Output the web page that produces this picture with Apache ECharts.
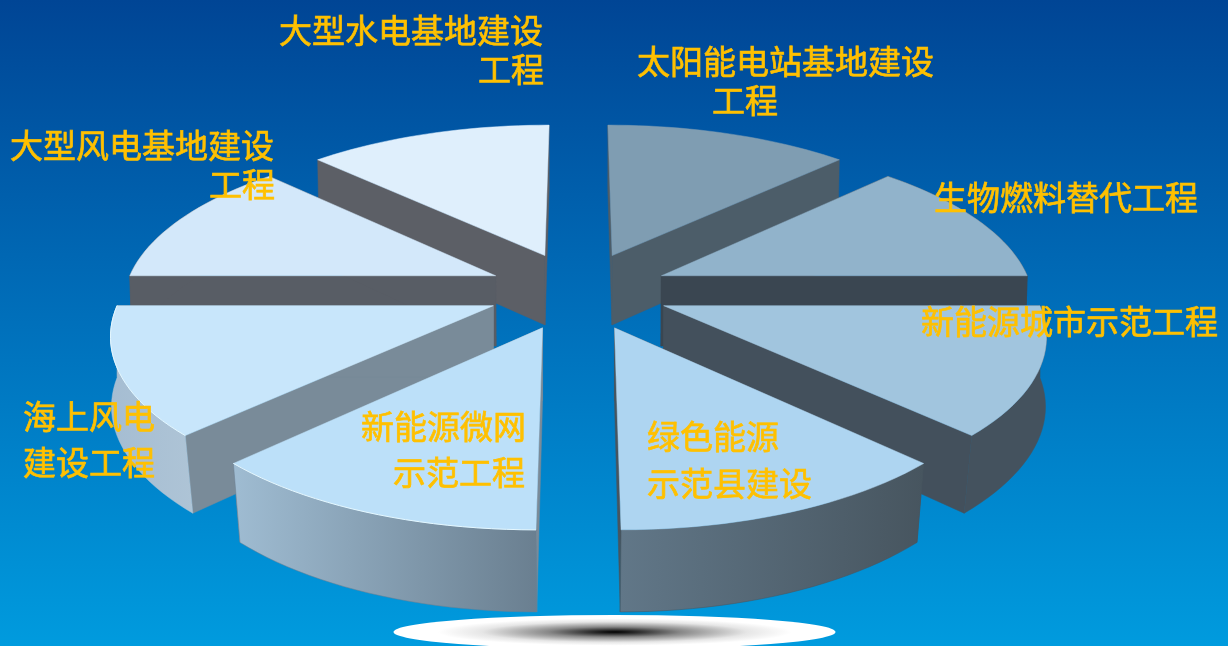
<!DOCTYPE html>
<html>
<head>
<meta charset="utf-8">
<style>
  html, body { margin: 0; padding: 0; width: 100%; height: 100%; overflow: hidden; }
  #chart { width: 1228px; height: 646px; }
</style>
<script src="https://cdn.jsdelivr.net/npm/echarts@6/dist/echarts.min.js"></script>
</head>
<body>
<div id="chart"></div>
<script>
// Eight equal project groups, listed clockwise from twelve o'clock.
const categories = [
  '太阳能电站基地建设\n工程',
  '生物燃料替代工程',
  '新能源城市示范工程',
  '绿色能源\n示范县建设',
  '新能源微网\n示范工程',
  '海上风电\n建设工程',
  '大型风电基地建设\n工程',
  '大型水电基地建设\n工程'
];
const values = [1, 1, 1, 1, 1, 1, 1, 1];

// Face colours per slice, same order as the categories.
const topColors = ['#7f9db2', '#91b3cb', '#a1c5de', '#aed5f1', '#bce0f9', '#c8e6fb', '#d3e8fa', '#dfeffc'];
const wallColors = ['#4c5d69', '#3a4651', '#43505c', '#47555f', '#7a8b99', '#798b99', '#585d65', '#5c5f66'];
// Outer rim shading: colour at the left and right of each rim.
const rimLeft = ['#4c5d69', '#3a4651', '#44525e', '#617788', '#9fbcd2', '#a5bdd2', '#585d65', '#5c5f66'];
const rimRight = ['#4c5d69', '#3a4651', '#44525e', '#47555f', '#6a7f90', '#aec4d6', '#585d65', '#5c5f66'];
const rimHighlight = [null, null, null, null, '#e6f8ff', '#e6f8ff', null, null];

// Label lines: left edge of every line, first-line centre and line spacing.
const labelLayout = [
  { x: [637, 712], y: 61, gap: 39 },
  { x: [934], y: 197, gap: 0 },
  { x: [921], y: 321, gap: 0 },
  { x: [647, 647], y: 436, gap: 47 },
  { x: [361, 393], y: 426, gap: 46 },
  { x: [23, 23], y: 416, gap: 46 },
  { x: [10, 209], y: 145, gap: 39 },
  { x: [279, 478], y: 30, gap: 39 }
];

// Perspective model of the disc: unit radius, exploded outwards.
const view = { cx: 578.5, cy: 290.5, a: 371, b: 159.5, k: 0.149, explode: 0.245, depth: 71 };
const total = values.reduce((sum, v) => sum + v, 0);

function projectTop(X, Y) {
  const s = 1 / (1 - view.k * Y);
  return [view.cx + view.a * X * s, view.cy + view.b * Y * s, s];
}
// The underside sits lower and, towards the viewer, slightly closer to the centre.
function projectBottom(X, Y) {
  const p = projectTop(X, Y);
  const shrink = Y > 0 ? 1 - 0.03 * Math.min(Y * Y, 0.64) : 0.995;
  return [
    view.cx + (p[0] - view.cx) * shrink,
    view.cy + (p[1] - view.cy) * 0.98 + view.depth * p[2]
  ];
}

function renderSlice(params, api) {
  const i = params.dataIndex;
  const before = values.slice(0, i).reduce((sum, v) => sum + v, 0);
  const a0 = Math.PI / 2 - (before / total) * Math.PI * 2;
  const a1 = a0 - (api.value(0) / total) * Math.PI * 2;
  const mid = (a0 + a1) / 2;
  const ox = view.explode * Math.cos(mid);
  const oy = -view.explode * Math.sin(mid);

  const rim = [];
  const steps = 24;
  for (let n = 0; n <= steps; n++) {
    const t = a0 + (a1 - a0) * n / steps;
    rim.push([Math.cos(t) + ox, -Math.sin(t) + oy]);
  }
  const apexTop = projectTop(ox, oy).slice(0, 2);
  const apexBottom = projectBottom(ox, oy);
  const rimTop = rim.map(p => projectTop(p[0], p[1]).slice(0, 2));
  const rimBottom = rim.map(p => projectBottom(p[0], p[1]));
  const z2 = 100 + Math.round(-Math.sin(mid) * 50);

  const wall = (topEnd, bottomEnd) => ({
    type: 'polygon',
    z2,
    shape: { points: [apexTop, topEnd, bottomEnd, apexBottom] },
    style: { fill: wallColors[i], stroke: wallColors[i], lineWidth: 0.5 }
  });

  const children = [
    wall(rimTop[0], rimBottom[0]),
    wall(rimTop[steps], rimBottom[steps])
  ];
  if (Math.sin(mid) < 0.5) {
    children.push({
      type: 'polygon',
      z2,
      shape: { points: rimTop.concat(rimBottom.slice().reverse()) },
      style: {
        fill: new echarts.graphic.LinearGradient(0, 0, 1, 0, [
          { offset: 0, color: rimLeft[i] },
          { offset: 1, color: rimRight[i] }
        ]),
        stroke: rimRight[i],
        lineWidth: 0.5
      }
    });
  }
  children.push({
    type: 'polygon',
    z2,
    shape: { points: [apexTop].concat(rimTop) },
    style: { fill: topColors[i], stroke: topColors[i], lineWidth: 0.5 }
  });
  if (rimHighlight[i]) {
    children.push({
      type: 'polyline',
      z2,
      shape: { points: rimTop },
      style: { fill: 'none', stroke: rimHighlight[i], lineWidth: 1 }
    });
  }
  categories[i].split('\n').forEach((line, n) => {
    children.push({
      type: 'text',
      z2: 500,
      x: labelLayout[i].x[n],
      y: labelLayout[i].y + n * labelLayout[i].gap,
      style: {
        text: line,
        fill: '#ffc000',
        stroke: '#ffc000',
        lineWidth: 0.7,
        fontFamily: '"Noto Sans CJK SC", sans-serif',
        fontSize: 33,
        align: 'left',
        verticalAlign: 'middle'
      }
    });
  });
  return { type: 'group', children };
}

const chart = echarts.init(document.getElementById('chart'), null, { renderer: 'canvas' });
chart.setOption({
  animation: false,
  backgroundColor: new echarts.graphic.LinearGradient(0, 0, 0, 1, [
    { offset: 0, color: '#004595' },
    { offset: 0.5, color: '#0070bb' },
    { offset: 1, color: '#009bde' }
  ]),
  // Soft ground shadow under the disc.
  graphic: [{
    type: 'circle',
    silent: true,
    x: 614.5,
    y: 632,
    scaleX: 13,
    shape: { cx: 0, cy: 0, r: 17 },
    style: {
      fill: new echarts.graphic.RadialGradient(0.5, 0.5, 0.5, [
        { offset: 0, color: '#000000' },
        { offset: 0.12, color: '#333333' },
        { offset: 0.3, color: '#888888' },
        { offset: 0.6, color: '#e6e6e6' },
        { offset: 0.8, color: '#ffffff' },
        { offset: 1, color: '#ffffff' }
      ])
    }
  }],
  series: [{
    type: 'custom',
    coordinateSystem: 'none',
    silent: true,
    renderItem: renderSlice,
    data: values
  }]
});
</script>
</body>
</html>
